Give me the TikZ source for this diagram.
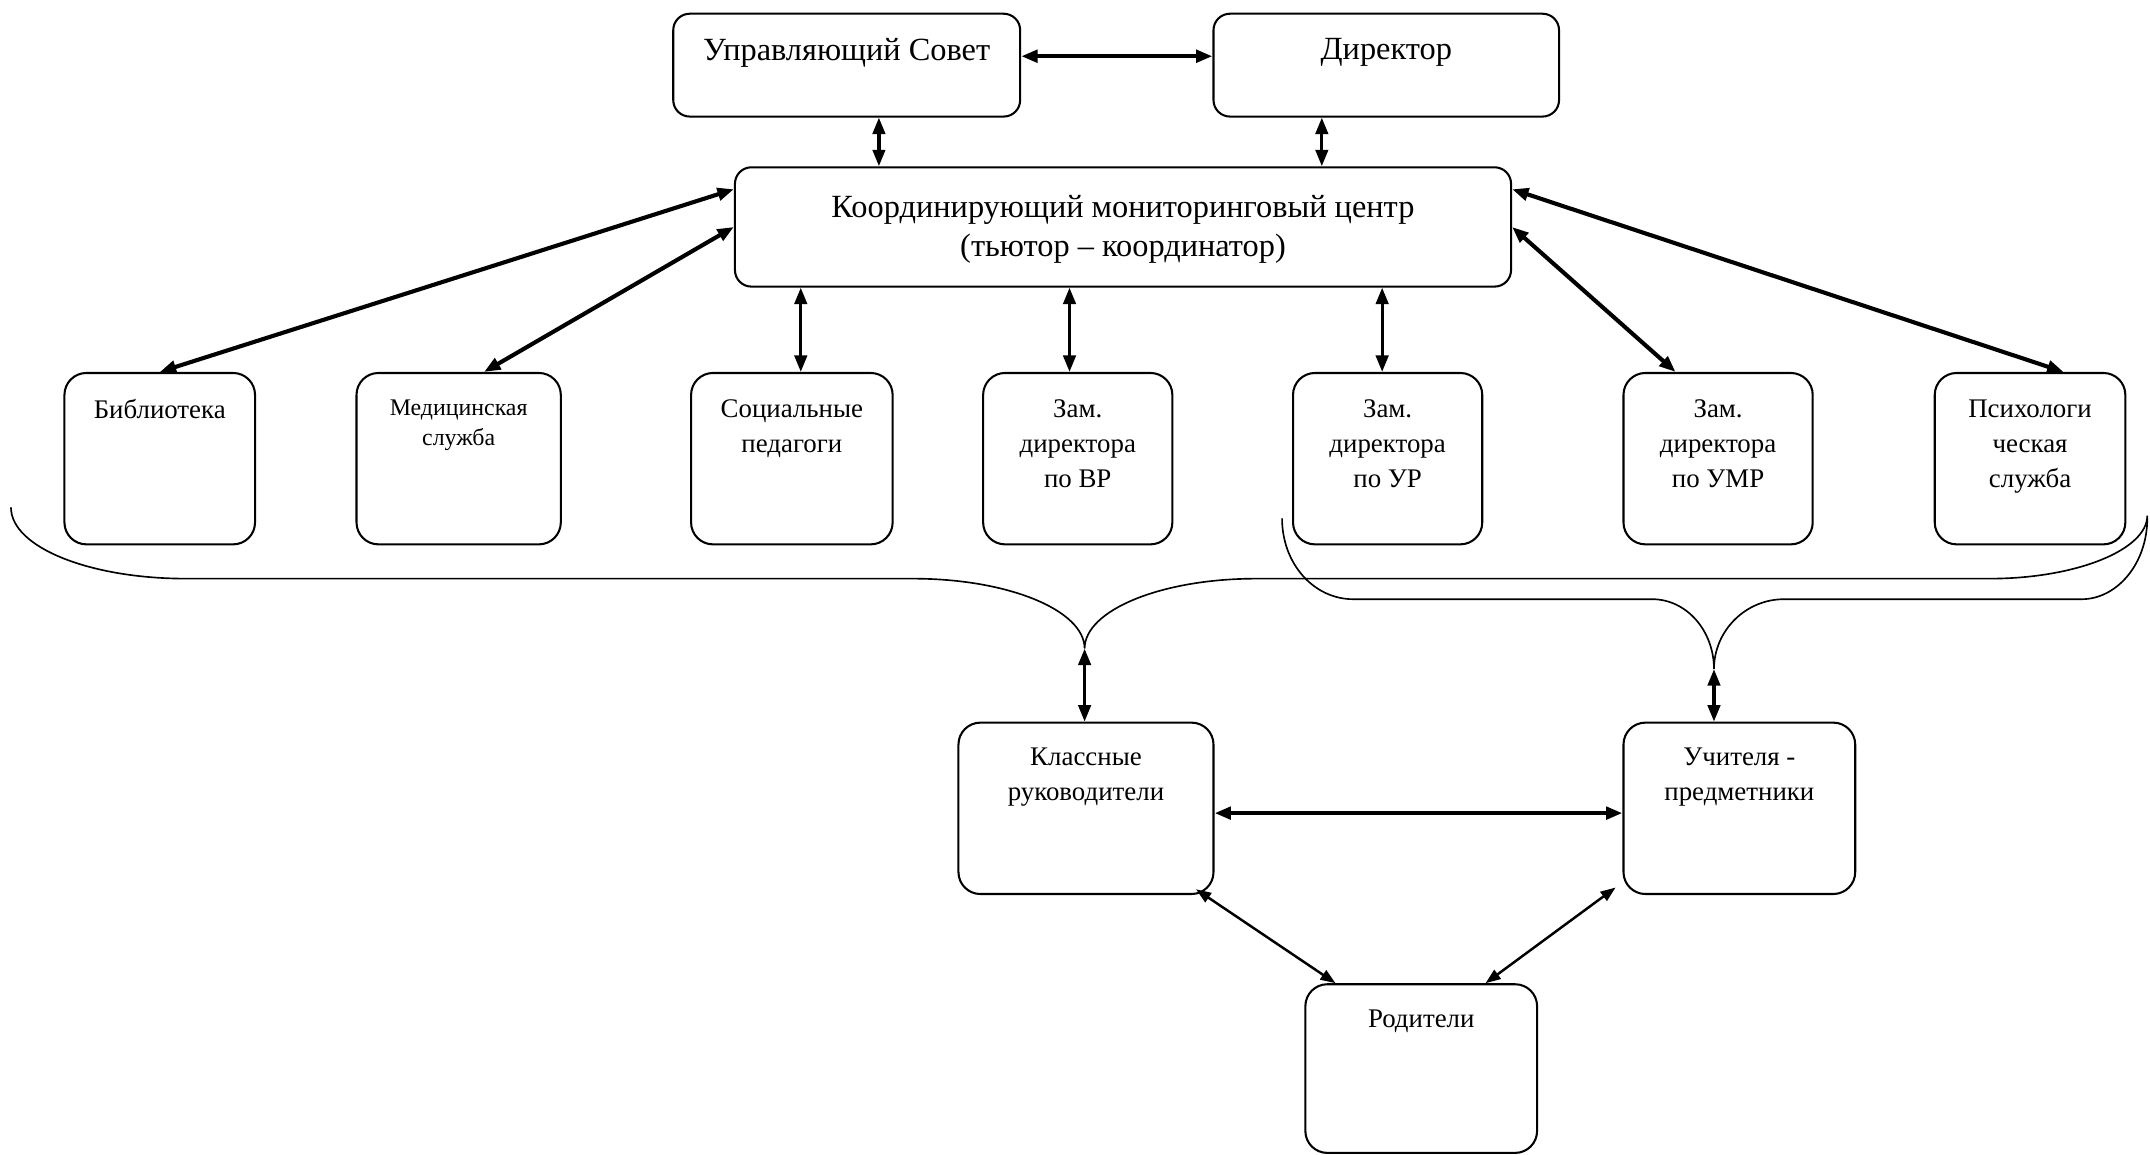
\documentclass[tikz,border=0pt]{standalone}
\usepackage{fontspec}
\setmainfont{Liberation Serif}
\usetikzlibrary{arrows.meta}
\begin{document}
\begin{tikzpicture}[x=0.5pt,y=-0.5pt,
  box/.style={draw, line width=0.75pt, inner sep=0pt},
  topbox/.style={box, rounded corners=6pt},
  rowbox/.style={box, rounded corners=8pt, minimum height=62.5pt},
  txt/.style={anchor=north, inner sep=0pt, align=center, font=\fontsize{9.8}{12.75}\selectfont},
  bigtxt/.style={txt, font=\fontsize{11.8}{14}\selectfont},
  smalltxt/.style={txt, font=\fontsize{8.7}{11}\selectfont},
  arr/.style={{Triangle[length=6pt,width=4.5pt]}-{Triangle[length=6pt,width=4.5pt]}, line width=1.2pt},
  thickarr/.style={arr, line width=1.6pt},
  diagarr/.style={arr, line width=1.5pt},
  thinarr/.style={{Triangle[length=5.5pt,width=4pt]}-{Triangle[length=5.5pt,width=4pt]}, line width=0.9pt},
  brace/.style={line width=0.6pt}
]
\useasboundingbox (0,0) rectangle (1568,842);

% top boxes
\node[topbox, minimum width=126.5pt, minimum height=37.5pt] (us) at (617.5,47.5) {};
\node[topbox, minimum width=126pt, minimum height=37.5pt] (dir) at (1011,47.5) {};
\node[topbox, minimum width=283pt, minimum height=43.5pt] (kmc) at (819,165.5) {};
\node[bigtxt] (ust) at ([yshift=-9.3pt]us.north) {Управляющий Совет};
\node[bigtxt] (dirt) at ([yshift=-9.3pt]dir.north) {Директор};
\node[bigtxt] (kmct) at ([yshift=-10.5pt]kmc.north) {Координирующий мониторинговый центр\\(тьютор – координатор)};

% row boxes
\node[rowbox, minimum width=69.5pt] (lib) at (116.5,334.5) {};
\node[rowbox, minimum width=74.5pt] (med) at (334.5,334.5) {};
\node[rowbox, minimum width=73.5pt] (soc) at (577.5,334.5) {};
\node[rowbox, minimum width=69pt] (zvr) at (786,334.5) {};
\node[rowbox, minimum width=69pt] (zur) at (1012,334.5) {};
\node[rowbox, minimum width=69pt] (zumr) at (1253,334.5) {};
\node[rowbox, minimum width=69.5pt] (psy) at (1480.5,334.5) {};
\node[txt] (libt) at ([yshift=-9.85pt]lib.north) {Библиотека};
\node[smalltxt] (medt) at ([yshift=-9.85pt]med.north) {Медицинская\\служба};
\node[txt] (soct) at ([yshift=-9.85pt]soc.north) {Социальные\\педагоги};
\node[txt] (zvrt) at ([yshift=-9.85pt]zvr.north) {Зам.\\директора\\по ВР};
\node[txt] (zurt) at ([yshift=-9.85pt]zur.north) {Зам.\\директора\\по УР};
\node[txt] (zumrt) at ([yshift=-9.85pt]zumr.north) {Зам.\\директора\\по УМР};
\node[txt] (psyt) at ([yshift=-9.85pt]psy.north) {Психологи\\ческая\\служба};

% bottom boxes
\node[rowbox, minimum width=93pt] (kr) at (792,589.5) {};
\node[rowbox, minimum width=84.5pt] (up) at (1268.5,589.5) {};
\node[rowbox, minimum width=84.5pt, minimum height=61.5pt] (rod) at (1036.5,779.3) {};
\node[txt] (krt) at ([yshift=-9.3pt]kr.north) {Классные\\руководители};
\node[txt] (upt) at ([yshift=-9.3pt]up.north) {Учителя -\\предметники};
\node[txt] (rodt) at ([yshift=-9.5pt]rod.north) {Родители};

% top connectors
\draw[thickarr] ([yshift=3.25pt]us.east) -- ([yshift=3.25pt]dir.west);
\draw[arr] ([xshift=11.75pt]us.south) -- ([xshift=11.75pt]us.south |- kmc.north);
\draw[arr] ([xshift=-23.5pt]dir.south) -- ([xshift=-23.5pt]dir.south |- kmc.north);

% center to row
\draw[diagarr] ([yshift=13.75pt]kmc.west) -- (lib.north);
\draw[diagarr] (kmc.west) -- ([xshift=9.25pt]med.north);
\draw[arr] ([xshift=3.25pt]soc.north |- kmc.south) -- ([xshift=3.25pt]soc.north);
\draw[arr] ([xshift=-3pt]zvr.north |- kmc.south) -- ([xshift=-3pt]zvr.north);
\draw[arr] ([xshift=-2pt]zur.north |- kmc.south) -- ([xshift=-2pt]zur.north);
\draw[diagarr] (kmc.east) -- ([xshift=-15.5pt]zumr.north);
\draw[diagarr] ([yshift=13.75pt]kmc.east) -- ([xshift=12.25pt]psy.north);

% braces
\coordinate (c1) at (791,473);
\coordinate (c2) at (1250,488);
\draw[brace] (8,370) .. controls (8,399) and (65,422) .. (136,422) -- (666,422)
  .. controls (735,422) and (791,445) .. (c1)
  .. controls (791,445) and (847,422) .. (916,422) -- (1451,422)
  .. controls (1514,422) and (1566,401) .. (1566,376);
\draw[brace] (935,378) .. controls (935,411) and (958,437) .. (987,437) -- (1205,437)
  .. controls (1230,437) and (1250,460) .. (c2)
  .. controls (1250,460) and (1273,437) .. (1301,437) -- (1518,437)
  .. controls (1544,437) and (1566,411) .. (1566,378);

% lower connectors
\draw[arr] (c1) -- (c1 |- kr.north);
\draw[arr] (c2) -- (c2 |- up.north);
\draw[thickarr] ([yshift=-1.75pt]kr.east) -- ([yshift=-1.75pt]up.west);
\draw[thinarr] ([xshift=-6.75pt,yshift=2.1pt]kr.south east) -- ([xshift=-31.25pt]rod.north);
\draw[thinarr] ([xshift=-2.5pt,yshift=2.75pt]up.south west) -- ([xshift=23.45pt]rod.north);
\end{tikzpicture}
\end{document}
